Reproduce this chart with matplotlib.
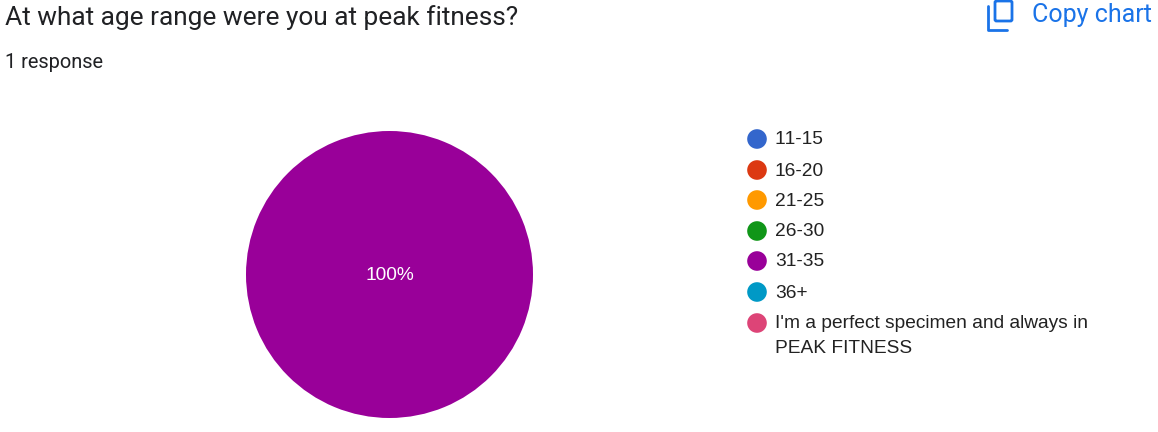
import matplotlib.pyplot as plt
from matplotlib.patches import Circle, FancyBboxPatch

plt.rcParams['font.family'] = ['Roboto', 'Liberation Sans', 'DejaVu Sans']
plt.rcParams['text.kerning_factor'] = 6

title = 'At what age range were you at peak fitness?'
subtitle = '1 response'
categories = ['11-15', '16-20', '21-25', '26-30', '31-35', '36+',
              "I'm a perfect specimen and always in\nPEAK FITNESS"]
values = [0, 0, 0, 0, 100, 0, 0]
colors = ['#3366cc', '#dc3912', '#ff9900', '#109618', '#990099', '#0099c6', '#dd4477']
legend_y = [139, 170, 200, 231, 261, 292, 323]

W, H = 1158, 432
fig = plt.figure(figsize=(W / 100, H / 100), dpi=100)

# whole figure in pixel coordinates
ax = fig.add_axes([0, 0, 1, 1])
ax.set_xlim(0, W)
ax.set_ylim(H, 0)
ax.axis('off')

ax.text(5, 18, title, fontsize=18.9, color='#202124', va='center', ha='left')
ax.text(5, 63, subtitle, fontsize=14.4, color='#202124', va='center', ha='left')

# copy chart button
blue = '#1a73e8'
ax.add_patch(FancyBboxPatch((995, 1), 17, 20, boxstyle='round,pad=0,rounding_size=1.5',
                            fill=False, ec=blue, lw=2))
ax.plot([987.5, 987.5, 1007], [6, 29.5, 29.5], color=blue, lw=2,
        solid_capstyle='round', solid_joinstyle='round')
ax.text(1032, 15, 'Copy chart', fontsize=18, color=blue, va='center', ha='left')

# legend
for cat, c, y in zip(categories, colors, legend_y):
    ax.add_patch(Circle((757, y), 9.8, color=c, lw=0))
    ax.text(775, y - 7.5, cat, fontsize=13.8, color='#222222', va='top', ha='left',
            family='Liberation Sans', linespacing=1.6)

# pie
ax_pie = fig.add_axes([246 / W, 1 - 418 / H, 287 / W, 287 / H])
ax_pie.pie(values, colors=colors, startangle=90, radius=1,
           wedgeprops={'linewidth': 0})
ax_pie.set_xlim(-1, 1)
ax_pie.set_ylim(-1, 1)
ax_pie.text(0, -0.007, '100%', color='white', fontsize=13.8, ha='center', va='center',
            family='Liberation Sans')

fig.savefig('out.png', dpi=100)
